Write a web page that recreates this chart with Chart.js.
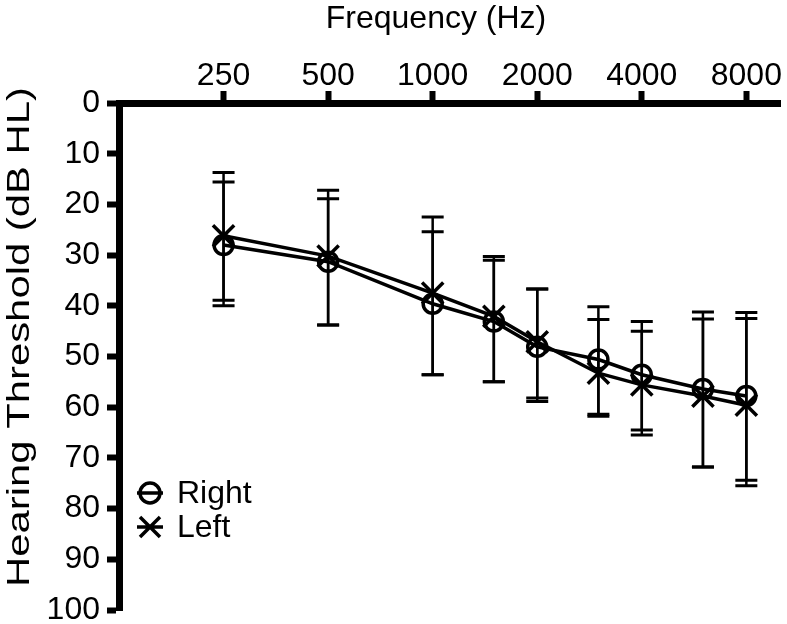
<!DOCTYPE html>
<html>
<head>
<meta charset="utf-8">
<script src="https://cdn.jsdelivr.net/npm/chart.js@4/dist/chart.umd.min.js"></script>
<style>
  html, body { margin: 0; padding: 0; background: #fff; }
  canvas { display: block; }
</style>
</head>
<body>
<canvas id="grafico" width="787" height="624"></canvas>
<script>
// ---------- datos ----------
const frecuencias = [250, 500, 1000, 1500, 2000, 3000, 4000, 6000, 8000];
const ticksX = [250, 500, 1000, 2000, 4000, 8000];
const ticksY = [0, 10, 20, 30, 40, 50, 60, 70, 80, 90, 100];

const derechaMedia = [28.0, 31.3, 39.6, 43.1, 48.1, 50.6, 53.6, 56.4, 57.8];
const derechaBaja  = [15.6, 18.9, 25.4, 31.0, 36.7, 40.2, 43.1, 41.2, 41.3];
const derechaAlta  = [40.0, 43.8, 53.6, 55.0, 58.9, 61.4, 64.5, 71.8, 74.4];

const izquierdaMedia = [26.2, 30.2, 37.5, 42.1, 47.1, 53.3, 55.6, 57.8, 59.6];
const izquierdaBaja  = [13.7, 17.2, 22.5, 30.3, 36.7, 42.7, 45.0, 42.6, 42.5];
const izquierdaAlta  = [38.9, 43.8, 53.6, 55.0, 58.2, 61.8, 65.5, 71.8, 75.5];

const FUENTE = "'Liberation Sans', Arial, Helvetica, sans-serif";

// ---------- barras de error ----------
const barrasError = {
  id: "barrasError",
  beforeDatasetsDraw(chart) {
    const { ctx, scales: { x, y } } = chart;
    const series = [[derechaBaja, derechaAlta], [izquierdaBaja, izquierdaAlta]];
    ctx.save();
    ctx.strokeStyle = "#000";
    series.forEach(([bajos, altos]) => {
      frecuencias.forEach((f, i) => {
        const px = x.getPixelForValue(f);
        const y1 = y.getPixelForValue(bajos[i]);
        const y2 = y.getPixelForValue(altos[i]);
        ctx.lineWidth = 2.5;
        ctx.beginPath();
        ctx.moveTo(px, y1);
        ctx.lineTo(px, y2);
        ctx.stroke();
        ctx.lineWidth = 3;
        ctx.beginPath();
        ctx.moveTo(px - 11, y1); ctx.lineTo(px + 11, y1);
        ctx.moveTo(px - 11, y2); ctx.lineTo(px + 11, y2);
        ctx.stroke();
      });
    });
    ctx.restore();
  }
};

// ---------- titulos y leyenda ----------
const decorado = {
  id: "decorado",
  afterDraw(chart) {
    const { ctx, chartArea: a } = chart;
    ctx.save();
    ctx.fillStyle = "#000";
    ctx.strokeStyle = "#000";
    ctx.font = `32px ${FUENTE}`;

    // titulo eje X
    ctx.textAlign = "center";
    ctx.textBaseline = "alphabetic";
    ctx.fillText("Frequency (Hz)", 436, 28);

    // titulo eje Y (estirado como en el original)
    const tituloY = "Hearing Threshold (dB HL)";
    const ancho = ctx.measureText(tituloY).width;
    ctx.save();
    ctx.translate(29, 337);
    ctx.rotate(-Math.PI / 2);
    ctx.scale(500 / ancho, 1);
    ctx.fillText(tituloY, 0, 0);
    ctx.restore();

    // leyenda
    const lx = a.left + 31;
    const ly1 = a.bottom - 117;
    const ly2 = ly1 + 34;
    ctx.lineWidth = 3.5;
    ctx.beginPath();
    ctx.arc(lx, ly1, 10, 0, Math.PI * 2);
    ctx.stroke();
    ctx.beginPath();
    ctx.moveTo(lx - 13, ly1); ctx.lineTo(lx + 13, ly1);
    ctx.moveTo(lx - 13, ly2); ctx.lineTo(lx + 13, ly2);
    ctx.moveTo(lx - 10, ly2 - 10); ctx.lineTo(lx + 10, ly2 + 10);
    ctx.moveTo(lx - 10, ly2 + 10); ctx.lineTo(lx + 10, ly2 - 10);
    ctx.stroke();
    ctx.textAlign = "left";
    ctx.textBaseline = "middle";
    ctx.fillText("Right", lx + 27, ly1 + 1);
    ctx.fillText("Left", lx + 27, ly2 + 1);
    ctx.restore();
  }
};

const puntos = arr => frecuencias.map((f, i) => ({ x: f, y: arr[i] }));

new Chart(document.getElementById("grafico"), {
  type: "line",
  data: {
    datasets: [
      {
        label: "Right",
        data: puntos(derechaMedia),
        borderColor: "#000",
        borderWidth: 3.5,
        pointStyle: "circle",
        pointRadius: 9.5,
        pointBorderWidth: 3.5,
        pointBorderColor: "#000",
        pointBackgroundColor: "rgba(0,0,0,0)"
      },
      {
        label: "Left",
        data: puntos(izquierdaMedia),
        borderColor: "#000",
        borderWidth: 3.5,
        pointStyle: "crossRot",
        pointRadius: 15,
        pointBorderWidth: 3.5,
        pointBorderColor: "#000"
      }
    ]
  },
  options: {
    responsive: false,
    animation: false,
    layout: { autoPadding: false, padding: { top: 0, left: 0, right: 7, bottom: 14 } },
    plugins: { legend: { display: false }, tooltip: { enabled: false } },
    scales: {
      x: {
        type: "logarithmic",
        position: "top",
        min: 125,
        max: 10000,
        afterBuildTicks: s => { s.ticks = ticksX.map(v => ({ value: v })); },
        afterFit: s => { s.height = 103; s.paddingLeft = 0; s.paddingRight = 0; },
        ticks: {
          callback: v => String(v),
          font: { family: FUENTE, size: 32 },
          color: "#000",
          padding: -4,
          maxRotation: 0,
          autoSkip: false
        },
        grid: { drawOnChartArea: false, tickLength: 12, tickWidth: 6, tickColor: "#000" },
        border: { color: "#000", width: 7 }
      },
      y: {
        type: "linear",
        reverse: true,
        min: 0,
        max: 100,
        afterBuildTicks: s => { s.ticks = ticksY.map(v => ({ value: v })); },
        afterFit: s => { s.width = 119; s.paddingTop = 0; s.paddingBottom = 0; },
        ticks: {
          font: { family: FUENTE, size: 32 },
          color: "#000",
          padding: 7
        },
        grid: { drawOnChartArea: false, tickLength: 12, tickWidth: 6, tickColor: "#000" },
        border: { color: "#000", width: 7 }
      }
    }
  },
  plugins: [barrasError, decorado]
});
</script>
</body>
</html>
